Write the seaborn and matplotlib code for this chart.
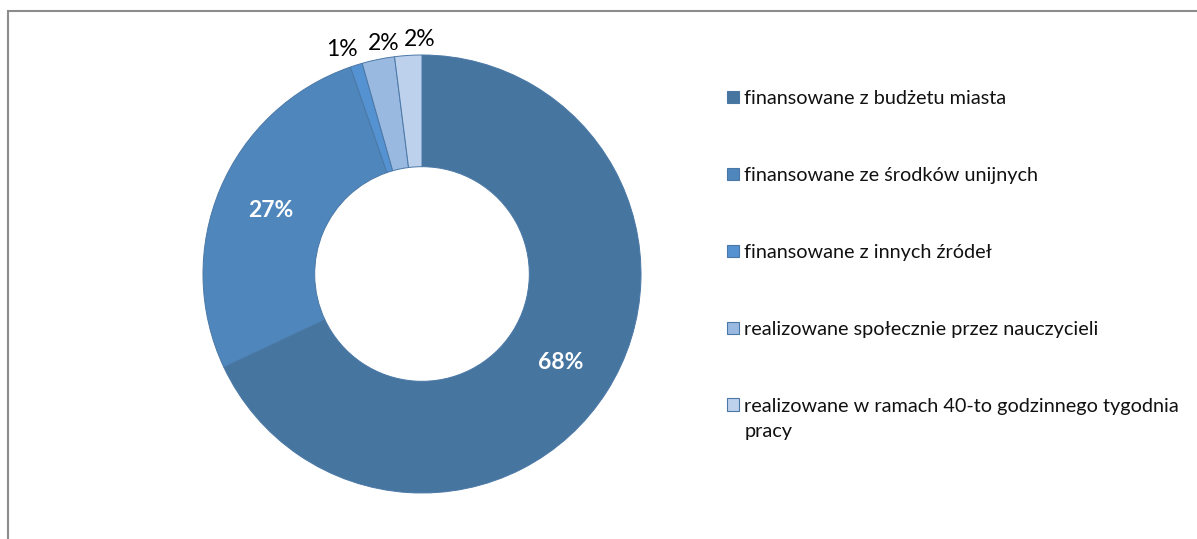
import matplotlib
matplotlib.use("Agg")
import matplotlib.pyplot as plt
from matplotlib.patches import Patch, Rectangle
import numpy as np
import seaborn as sns

# Dane (udział w %)
kategorie = [
    "finansowane z budżetu miasta",
    "finansowane ze środków unijnych",
    "finansowane z innych źródeł",
    "realizowane społecznie przez nauczycieli",
    "realizowane w ramach 40-to godzinnego tygodnia",
]
dopisek_ostatni = "pracy"  # druga linia ostatniej pozycji legendy
udzialy = [68.0, 26.7, 0.9, 2.4, 2.0]
kolory = ["#4675A0", "#4F87BD", "#5592D2", "#9AB9E0", "#BED1EC"]

sns.set_theme(style="white")
plt.rcParams["font.family"] = ["Lato", "DejaVu Sans"]
plt.rcParams["text.color"] = "#111111"

W, H = 1197, 539
fig = plt.figure(figsize=(W / 100, H / 100), dpi=100)

# osie kołowe: środek (422, 274) px, promień 219 px
cx, cy, r = 422, 274, 219
ax = fig.add_axes([(cx - r) / W, (H - cy - r) / H, 2 * r / W, 2 * r / H])

wedges, _ = ax.pie(
    udzialy,
    colors=kolory,
    startangle=90,
    counterclock=False,
    radius=1.0,
    wedgeprops=dict(width=0.51, edgecolor="#4A78A6", linewidth=0.7),
)
ax.set_aspect("equal")
ax.set_xlim(-1, 1)
ax.set_ylim(-1, 1)
ax.axis("off")

# etykiety procentowe; małe wycinki mają etykiety na zewnątrz,
# rozsunięte poziomo (jak w Excelu), żeby na siebie nie wchodziły
rozsuniecie_px = [0, 0, -9, 9, 12]
kat = 90.0
for v, dx in zip(udzialy, rozsuniecie_px):
    srodek = kat - v * 3.6 / 2
    kat -= v * 3.6
    rad = np.deg2rad(srodek)
    etyk = f"{round(v):.0f}%"
    if v > 10:
        ax.text(0.75 * np.cos(rad), 0.75 * np.sin(rad), etyk, ha="center",
                va="center", color="white", fontsize=16.5, fontweight="bold")
    else:
        ax.annotate(etyk, (1.075 * np.cos(rad), 1.075 * np.sin(rad)),
                    xytext=(dx * 0.72, 0), textcoords="offset points",
                    ha="center", va="center", color="black", fontsize=16.5,
                    annotation_clip=False)

uchwyty = [Patch(facecolor=c, edgecolor="#4A78A6", linewidth=0.8) for c in kolory]
fig.legend(uchwyty, kategorie, loc="upper left",
           bbox_to_anchor=(727 / W, 1 - 90 / H), frameon=False,
           fontsize=14.3, handlelength=0.62, handleheight=0.62,
           handletextpad=0.25, labelspacing=3.02, borderpad=0,
           borderaxespad=0)
fig.text(745 / W, 1 - 432 / H, dopisek_ostatni, fontsize=14.3,
         ha="left", va="center")

# szara ramka obszaru wykresu (ucięta przy prawej i dolnej krawędzi)
fig.add_artist(Rectangle((8 / W, -0.1), 1.2, 1 - 11 / H + 0.1,
                         transform=fig.transFigure, fill=False,
                         edgecolor="#8C8C8C", linewidth=1.5))

fig.savefig("out.png", dpi=100)
